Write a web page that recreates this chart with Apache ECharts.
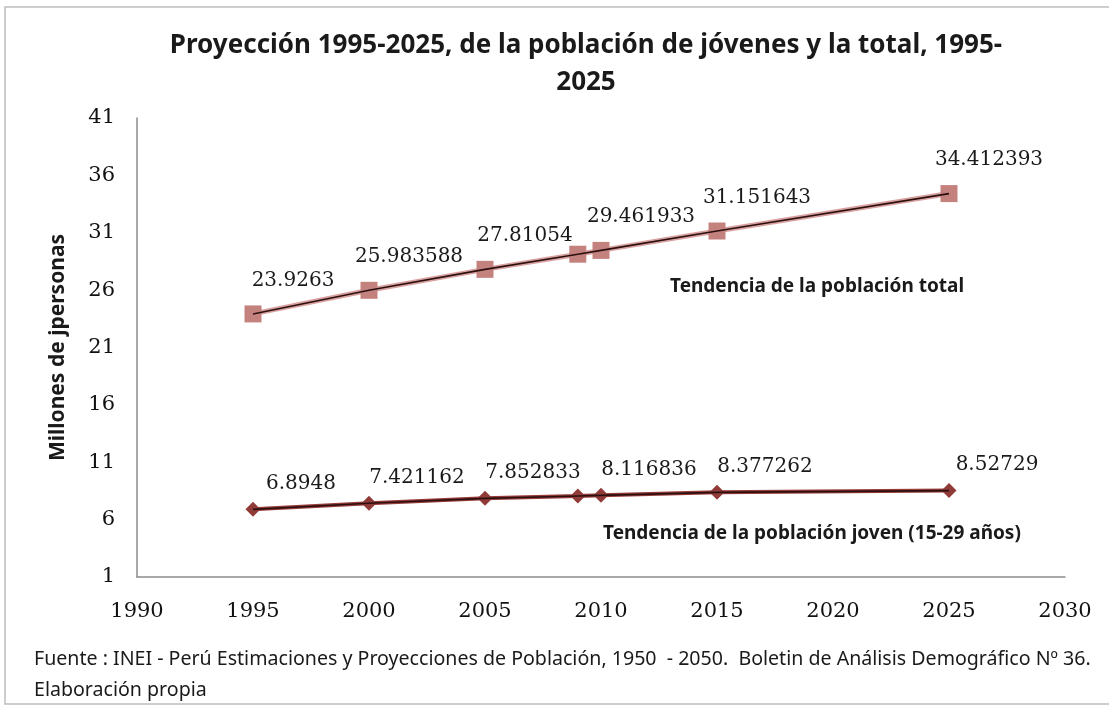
<!DOCTYPE html>
<html>
<head>
<meta charset="utf-8">
<script src="https://cdn.jsdelivr.net/npm/echarts@6/dist/echarts.min.js"></script>
<style>
  html, body { margin: 0; padding: 0; background: #fff; }
  #chart { width: 1109px; height: 717px; }
</style>
</head>
<body>
<div id="chart"></div>
<script>
// años con dato
const years = [1995, 2000, 2005, 2009, 2010, 2015, 2025];
// población total (millones)
const totalPop = [23.9263, 25.983588, 27.81054, 29.13, 29.461933, 31.151643, 34.412393];
// población joven 15-29 (millones)
const youngPop = [6.8948, 7.421162, 7.852833, 8.06, 8.116836, 8.377262, 8.52729];
// años cuyo valor aparece rotulado
const labelledYears = [1995, 2000, 2005, 2010, 2015, 2025];

const xTicks = { min: 1990, max: 2030, step: 5 };
const yTicks = { min: 1, max: 41, step: 5 };

const chart = echarts.init(document.getElementById('chart'));

const pairs = vals => years.map((y, i) => [y, vals[i]]);
const labelFmt = p => labelledYears.includes(p.value[0]) ? String(p.value[1]) : '';

const serifLabel = {
    fontFamily: 'DejaVu Serif',
    fontSize: 20,
    color: '#1a1a1a'
};

const option = {
    animation: false,
    backgroundColor: '#fff',
    title: {
        text: 'Proyección 1995-2025, de la población de jóvenes y la total, 1995-\n2025',
        left: 581, // el título va algo a la derecha del centro
        textAlign: 'center',
        top: 22,
        textStyle: {
            fontFamily: 'Noto Sans',
            fontSize: 26,
            fontWeight: 'bold',
            color: '#1a1a1a',
            lineHeight: 37
        }
    },
    grid: { left: 137, right: 44, top: 118, bottom: 140 },
    xAxis: {
        type: 'value',
        min: xTicks.min,
        max: xTicks.max,
        interval: xTicks.step,
        splitLine: { show: false },
        axisTick: { show: false },
        axisLine: { lineStyle: { color: '#8c8c8c', width: 1.5 } },
        axisLabel: {
            formatter: v => String(v),
            margin: 24,
            fontFamily: 'DejaVu Serif',
            fontSize: 21,
            color: '#111'
        }
    },
    yAxis: {
        type: 'value',
        min: yTicks.min,
        max: yTicks.max,
        interval: yTicks.step,
        name: 'Millones de jpersonas',
        nameLocation: 'middle',
        nameGap: 68,
        nameTextStyle: {
            fontFamily: 'Noto Sans',
            fontSize: 21,
            fontWeight: 'bold',
            color: '#1a1a1a'
        },
        splitLine: { show: false },
        axisTick: { show: false },
        axisLine: { show: true, lineStyle: { color: '#8c8c8c', width: 1.5 } },
        axisLabel: {
            margin: 22,
            fontFamily: 'DejaVu Serif',
            fontSize: 21,
            color: '#111'
        }
    },
    series: [
        {
            name: 'Población total',
            type: 'line',
            data: pairs(totalPop),
            symbol: 'rect',
            symbolSize: 17,
            itemStyle: { color: '#c4827f' },
            lineStyle: { color: '#d9a2a0', width: 5 },
            label: {
                show: true,
                position: 'top',
                offset: [40, -10],
                formatter: labelFmt,
                ...serifLabel
            },
            z: 2
        },
        {
            name: 'Tendencia total',
            type: 'line',
            data: pairs(totalPop),
            showSymbol: false,
            lineStyle: { color: '#2b1010', width: 1.6 },
            z: 3
        },
        {
            name: 'Población joven',
            type: 'line',
            data: pairs(youngPop),
            symbol: 'diamond',
            symbolSize: 15,
            itemStyle: { color: '#913b39' },
            lineStyle: { color: '#9a3c3a', width: 4 },
            label: {
                show: true,
                position: 'top',
                offset: [48, -3],
                formatter: labelFmt,
                ...serifLabel
            },
            z: 2
        },
        {
            name: 'Tendencia joven',
            type: 'line',
            data: pairs(youngPop),
            showSymbol: false,
            lineStyle: { color: '#2b1010', width: 1.6 },
            z: 3
        }
    ],
    graphic: [
        {
            type: 'rect',
            shape: { x: 5, y: 7, width: 1112, height: 697 },
            style: { fill: 'none', stroke: '#bdbdbd', lineWidth: 1.5 },
            silent: true
        },
        {
            type: 'text',
            left: 670,
            top: 277,
            style: {
                text: 'Tendencia de la población total',
                fontFamily: 'Noto Sans',
                fontSize: 19,
                fontWeight: 'bold',
                fill: '#1a1a1a'
            }
        },
        {
            type: 'text',
            left: 603,
            top: 524,
            style: {
                text: 'Tendencia de la población joven (15-29 años)',
                fontFamily: 'Noto Sans',
                fontSize: 19,
                fontWeight: 'bold',
                fill: '#1a1a1a'
            }
        },
        {
            type: 'text',
            left: 34,
            top: 644,
            style: {
                text: 'Fuente : INEI - Perú Estimaciones y Proyecciones de Población, 1950  - 2050.  Boletin de Análisis Demográfico Nº 36.\nElaboración propia',
                fontFamily: 'Noto Sans',
                fontSize: 19.6,
                lineHeight: 31,
                fill: '#1a1a1a'
            }
        }
    ]
};

chart.setOption(option);
</script>
</body>
</html>
